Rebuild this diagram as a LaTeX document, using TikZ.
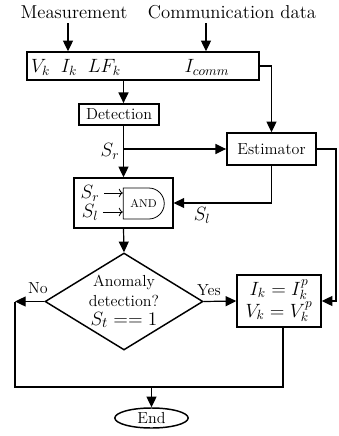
\documentclass[tikz,border=0pt]{standalone}
\usepackage{tikz}
\usetikzlibrary{shapes.geometric, shapes.misc, arrows.meta, positioning}

\begin{document}
\begin{tikzpicture}[
  x=0.75pt, y=-0.75pt,
  font=\fontsize{12}{15}\selectfont,
  box/.style={rectangle, draw, line width=1.1pt, inner sep=0pt},
  mathlbl/.style={font=\fontsize{14}{16}\selectfont},
  toplbl/.style={font=\fontsize{14}{16}\selectfont},
  gate/.style={rounded rectangle, rounded rectangle west arc=none, draw, line width=0.6pt,
               minimum width=30.75pt, minimum height=23.25pt, inner sep=0pt,
               font=\fontsize{8.5}{10}\selectfont},
  arrow/.style={-{Triangle[length=8pt,width=7.5pt]}, line width=0.9pt},
  line/.style={line width=0.9pt},
  inarrow/.style={-{To[length=3pt]}, line width=0.6pt}
]
  \useasboundingbox (0,0) rectangle (339,436);

  % inputs
  \node[toplbl] (meas) at (74,12) {Measurement};
  \node[toplbl] (comm) at (232,12) {Communication data};
  \node[box, minimum width=174pt, minimum height=21pt] (inbox) at (143,66) {};
  \node[mathlbl] (meastxt) at (76,67) {$V_k\;\;I_k\;\;LF_k$};
  \node[mathlbl] (commtxt) at (207,67) {$I_{comm}$};

  % blocks
  \node[box, minimum width=60pt, minimum height=16pt] (det) at (119,114.5) {Detection};
  \node[box, minimum width=67pt, minimum height=24pt] (est) at (271.5,149) {Estimator};
  \node[box, minimum width=74pt, minimum height=37.5pt] (andbox) at (123.5,203) {};
  \node[gate] (gate) at (143.5,203.5) {AND};
  \node[mathlbl] (srin) at (90,193) {$S_r$};
  \node[mathlbl] (slin) at (90,212) {$S_l$};
  \node[diamond, draw, line width=1.1pt, aspect=1.63, inner sep=0pt,
        minimum width=118.5pt, minimum height=72.75pt, align=center] (anom) at (124,301.5)
        {Anomaly\\detection?\\[-1pt]{\fontsize{15}{15}\selectfont$S_t == 1$}};
  \node[box, minimum width=63pt, minimum height=39pt, align=center,
        font=\fontsize{14.5}{15}\selectfont] (upd) at (279,301)
        {$I_k = I_k^p$\\[1.5pt]$V_k = V_k^p$};
  \node[ellipse, draw, line width=1.1pt, minimum width=55pt, minimum height=15pt, inner sep=0pt] (end) at (151.5,418) {End};

  % labels
  \node[mathlbl] (srlbl) at (110,151) {$S_r$};
  \node[mathlbl] (sllbl) at (202,215) {$S_l$};
  \node (nolbl) at (38,288) {No};
  \node (yeslbl) at (209,290) {Yes};
  \coordinate (nol) at (15,301.5);
  \coordinate (botl) at (15,387);
  \coordinate (botm) at (151.5,387);

  \draw[arrow] ([xshift=-4.5pt]meas.south) -- ([xshift=-4.5pt]meas.south |- inbox.north);
  \draw[arrow] ([xshift=-19.5pt]comm.south) -- ([xshift=-19.5pt]comm.south |- inbox.north);
  \draw[arrow] (inbox.south -| andbox) -- (det.north -| andbox);
  \draw[arrow] (inbox.east) -| (est.north);
  \draw[arrow] (det.south -| andbox) -- (andbox.north);
  \draw[arrow] (det.south -| andbox) |- (est.west);
  \draw[arrow] (est.south) |- (andbox.east);
  \draw[inarrow] (srin.east) -- (srin.east -| gate.west);
  \draw[inarrow] (slin.east) -- (slin.east -| gate.west);
  \draw[arrow] (andbox.south) -- (anom.north);
  \draw[arrow] (anom.east) -- (upd.west);
  \draw[arrow] (anom.west) -- (nol);
  \draw[line] (nol) -- (botl) -| ([xshift=3pt]upd.south);
  \draw[arrow] (botm) -- (end.north);
  \draw[arrow] (est.east) -- ++(19,0) |- (upd.east);
\end{tikzpicture}
\end{document}
